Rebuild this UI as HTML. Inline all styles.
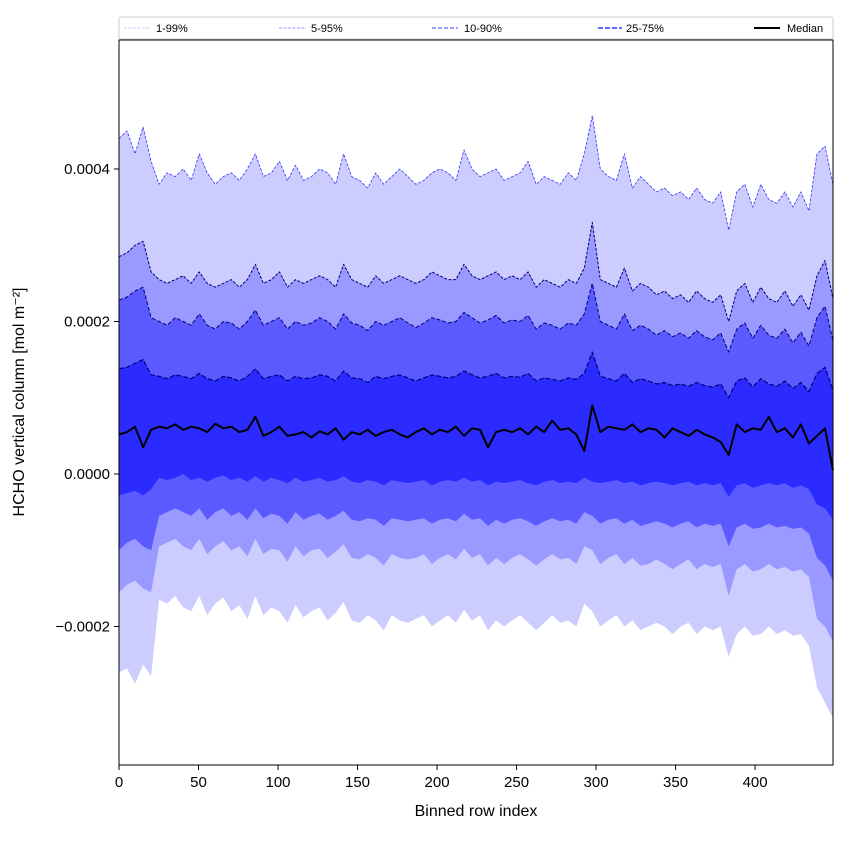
<!DOCTYPE html>
<html><head><meta charset="utf-8"><style>
body{margin:0;background:#fff;}
svg{display:block;font-family:"Liberation Sans","DejaVu Sans",sans-serif;}
</style></head><body>
<svg id="chart" width="850" height="850" viewBox="0 0 850 850" xmlns="http://www.w3.org/2000/svg">
<g id="fills"></g>
<g id="lines"></g>
<rect x="119" y="40" width="714" height="725" fill="none" stroke="#000" stroke-width="1"/>
<g id="axes"></g>
<text x="476" y="816" font-size="16" text-anchor="middle">Binned row index</text>
<text transform="translate(24,402) rotate(-90)" font-size="16" text-anchor="middle">HCHO vertical column [mol m⁻²]</text>
<g>
<rect x="119" y="17" width="714" height="22" fill="#fff" stroke="#ccc" stroke-width="1" rx="2"/>
<g><line x1="124" y1="28" x2="150" y2="28" stroke="#ccccff" stroke-width="1" stroke-dasharray="3,1.5"/><text x="156" y="32" font-size="11">1-99%</text></g>
<g><line x1="279" y1="28" x2="305" y2="28" stroke="#9999ff" stroke-width="1" stroke-dasharray="3,1.5"/><text x="311" y="32" font-size="11">5-95%</text></g>
<g><line x1="432" y1="28" x2="458" y2="28" stroke="#6666ff" stroke-width="1.3" stroke-dasharray="4,2"/><text x="464" y="32" font-size="11">10-90%</text></g>
<g><line x1="598" y1="28" x2="622" y2="28" stroke="#6666ff" stroke-width="2" stroke-dasharray="5,2"/><text x="626" y="32" font-size="11">25-75%</text></g>
<g><line x1="754" y1="28" x2="780" y2="28" stroke="#000" stroke-width="2"/><text x="787" y="32" font-size="11">Median</text></g>
</g>
</svg>
<script>
const p99=[440,450,420,455,410,380,395,390,400,385,420,395,380,390,395,385,400,420,390,395,410,385,405,385,390,400,395,380,420,390,385,375,395,380,390,400,390,380,385,395,400,395,385,425,400,390,395,400,385,390,395,410,380,390,385,380,395,385,420,470,400,390,385,420,375,390,380,370,375,365,370,360,375,360,355,370,320,370,380,350,380,360,355,370,350,370,345,420,430,380];
const p95=[285,290,300,305,265,255,250,255,260,250,265,250,245,250,255,245,255,275,250,255,265,245,255,250,255,260,255,245,275,255,250,245,260,250,255,260,255,250,255,265,260,255,255,275,260,255,260,265,255,260,255,265,245,255,250,245,255,250,270,330,255,250,245,270,240,250,245,235,240,230,235,225,240,230,225,235,200,240,250,225,245,230,225,240,220,235,215,260,280,230];
const p90=[228,232,240,245,205,200,195,205,200,195,210,195,190,200,198,190,200,215,195,200,205,190,200,195,198,205,200,190,210,198,195,188,200,195,200,205,198,192,198,205,202,198,200,212,205,198,202,208,198,202,200,208,190,198,195,190,198,195,210,250,200,195,190,210,188,195,190,182,188,180,185,178,188,180,176,185,160,190,198,178,195,182,178,190,172,186,168,205,220,175];
const p75=[138,140,145,150,130,128,125,130,128,125,132,125,122,128,126,122,128,138,125,128,130,122,128,125,126,130,128,122,135,126,125,120,128,125,128,130,126,122,126,130,128,126,128,135,130,126,128,132,126,128,127,132,122,126,124,122,126,124,132,160,128,125,122,132,120,125,122,118,120,116,118,115,120,116,114,118,100,122,126,114,125,118,115,122,112,120,108,132,140,110];
const median=[52,55,62,35,58,62,60,65,58,62,60,55,66,60,62,55,58,75,50,55,62,50,52,55,48,56,52,60,45,55,52,58,50,55,58,52,48,55,60,52,58,55,62,50,60,58,35,55,58,55,60,52,62,55,70,58,60,52,30,90,55,62,60,58,65,55,60,58,48,60,55,50,58,52,48,42,25,65,55,60,58,75,55,60,48,65,40,50,60,5];
const p25=[-28,-25,-22,-28,-20,-5,-8,-5,0,-8,-5,-10,-5,-2,-8,-5,-10,-3,-10,-5,-8,-12,-5,-10,-8,-5,-10,-8,-3,-10,-12,-8,-10,-15,-8,-10,-12,-10,-8,-15,-10,-8,-10,-5,-10,-8,-15,-10,-12,-10,-8,-12,-15,-10,-8,-12,-10,-12,-5,-10,-12,-10,-8,-12,-10,-15,-12,-10,-12,-15,-12,-10,-15,-12,-15,-12,-30,-15,-12,-18,-15,-12,-15,-12,-18,-15,-20,-40,-45,-60];
const p10=[-100,-90,-85,-95,-100,-55,-50,-45,-50,-55,-45,-60,-50,-45,-55,-50,-60,-45,-58,-52,-55,-65,-50,-60,-55,-52,-60,-55,-48,-60,-62,-58,-60,-68,-58,-60,-62,-60,-58,-65,-60,-58,-62,-52,-60,-58,-68,-60,-65,-60,-58,-62,-68,-62,-58,-62,-60,-65,-50,-55,-65,-60,-58,-65,-60,-68,-65,-62,-65,-70,-65,-62,-70,-65,-68,-65,-95,-70,-65,-72,-70,-65,-70,-68,-72,-70,-78,-110,-120,-140];
const p5=[-155,-145,-140,-150,-155,-95,-90,-85,-95,-100,-85,-105,-95,-88,-100,-95,-108,-85,-105,-98,-100,-115,-95,-108,-100,-98,-110,-102,-92,-110,-112,-105,-110,-120,-105,-110,-112,-110,-105,-118,-110,-105,-112,-98,-110,-105,-120,-110,-118,-110,-105,-112,-120,-112,-105,-112,-110,-118,-95,-100,-118,-110,-105,-118,-110,-120,-118,-112,-118,-125,-118,-112,-125,-118,-122,-118,-160,-125,-118,-128,-125,-118,-125,-122,-128,-125,-135,-190,-200,-220];
const p1=[-260,-255,-275,-250,-265,-165,-170,-160,-175,-180,-160,-185,-170,-162,-180,-172,-190,-160,-185,-175,-180,-195,-172,-188,-180,-175,-192,-182,-168,-192,-195,-185,-192,-205,-185,-192,-195,-190,-185,-200,-192,-185,-195,-178,-192,-185,-205,-192,-200,-192,-185,-195,-205,-195,-185,-195,-192,-200,-170,-180,-200,-192,-185,-200,-192,-205,-200,-195,-200,-210,-200,-195,-210,-200,-205,-200,-240,-210,-200,-212,-210,-200,-210,-205,-212,-210,-225,-280,-300,-320];
const xTicks=[0,50,100,150,200,250,300,350,400];
const yTicks=[-0.0002,0,0.0002,0.0004];
const yTickLabels=["\u22120.0002","0.0000","0.0002","0.0004"];
const XMAX=449;
const NS="http://www.w3.org/2000/svg";
function xs(v){return 119+v*(714/XMAX);}
function ys(v){return 474-v*762500;}
function idxX(i,n){return i*XMAX/(n-1);}
function pts(arr){return arr.map((v,i)=>[xs(idxX(i,arr.length)),ys(v*1e-6)]);}
function bandPath(hi,lo){
  const a=pts(hi),b=pts(lo).reverse();
  return "M"+a.concat(b).map(p=>p[0].toFixed(1)+","+p[1].toFixed(1)).join("L")+"Z";
}
function linePath(arr){return "M"+pts(arr).map(p=>p[0].toFixed(1)+","+p[1].toFixed(1)).join("L");}
const fills=document.getElementById('fills');
const bands=[[p99,p1,'#ccccff','band-1-99'],[p95,p5,'#9999ff','band-5-95'],[p90,p10,'#5a5aff','band-10-90'],[p75,p25,'#2b2bff','band-25-75']];
bands.forEach(b=>{
  const el=document.createElementNS(NS,'path');
  el.setAttribute('d',bandPath(b[0],b[1]));
  el.setAttribute('fill',b[2]);
  
  
  fills.appendChild(el);
});
const lines=document.getElementById('lines');
const ls=[[p99,'#3333ff',0.8,'3,1.5','line-p99'],[p95,'#000080',1,'3,1.5','line-p95'],[p90,'#000080',1,'4,2','line-p90'],[p75,'#000080',1.2,'5,2','line-p75'],[median,'#000',2,'','line-median']];
ls.forEach(l=>{
  const el=document.createElementNS(NS,'path');
  el.setAttribute('d',linePath(l[0]));
  el.setAttribute('fill','none');
  el.setAttribute('stroke',l[1]);
  el.setAttribute('stroke-width',l[2]);
  if(l[3])el.setAttribute('stroke-dasharray',l[3]);
  el.setAttribute('stroke-linejoin','round');
  
  
  lines.appendChild(el);
});
const axes=document.getElementById('axes');
xTicks.forEach(t=>{
  const x=xs(t);
  const tk=document.createElementNS(NS,'line');
  tk.setAttribute('x1',x);tk.setAttribute('x2',x);tk.setAttribute('y1',765);tk.setAttribute('y2',770);
  tk.setAttribute('stroke','#000');
  
  
  axes.appendChild(tk);
  const tx=document.createElementNS(NS,'text');
  tx.setAttribute('x',x);tx.setAttribute('y',787);tx.setAttribute('font-size','15');tx.setAttribute('text-anchor','middle');
  tx.textContent=String(t);
  
  
  axes.appendChild(tx);
});
yTicks.forEach((t,i)=>{
  const y=ys(t);
  const tk=document.createElementNS(NS,'line');
  tk.setAttribute('x1',114);tk.setAttribute('x2',119);tk.setAttribute('y1',y);tk.setAttribute('y2',y);
  tk.setAttribute('stroke','#000');
  
  
  axes.appendChild(tk);
  const tx=document.createElementNS(NS,'text');
  tx.setAttribute('x',110);tx.setAttribute('y',y+5);tx.setAttribute('font-size','15');tx.setAttribute('text-anchor','end');
  tx.textContent=yTickLabels[i];
  
  
  axes.appendChild(tx);
});
</script>
</body></html>
